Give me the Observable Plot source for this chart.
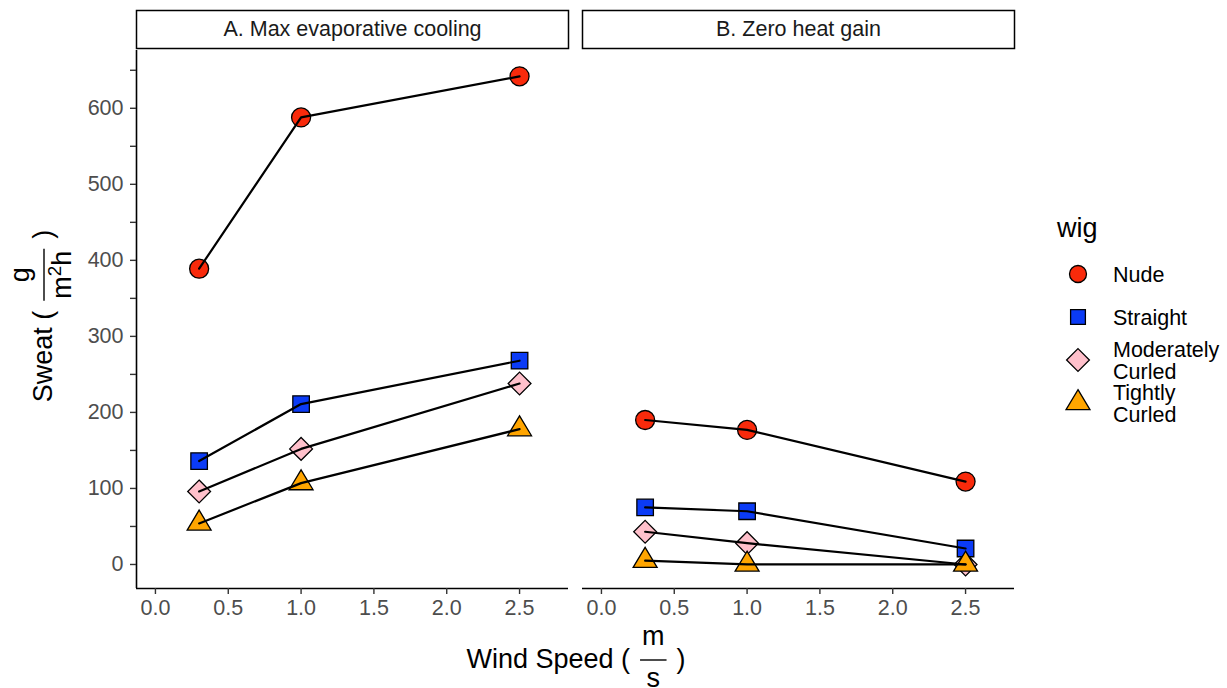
<!DOCTYPE html>
<html><head><meta charset="utf-8">
<script src="https://cdn.jsdelivr.net/npm/d3@7"></script>
<script src="https://cdn.jsdelivr.net/npm/@observablehq/plot@0.6"></script>
<style>body{margin:0;background:#fff;}</style>
</head><body>
<script>
const panels = ["A. Max evaporative cooling", "B. Zero heat gain"];
const wigs = ["Nude", "Straight", "Moderately Curled", "Tightly Curled"];
const windSpeeds = [0.3, 1.0, 2.5];
const maxCoolingNude = [389, 588, 642];
const maxCoolingStraight = [136, 211, 268];
const maxCoolingModerate = [96, 152, 238];
const maxCoolingTight = [54, 107, 178];
const zeroGainNude = [190, 177, 109];
const zeroGainStraight = [75, 70, 21];
const zeroGainModerate = [43, 28, 0];
const zeroGainTight = [5, 0, 0];
const wigFills = ["#F92A0B", "#0B3BF6", "#FFC0CB", "#FFA500"];
const xTicks = [0, 0.5, 1, 1.5, 2, 2.5];
const yTicks = [0, 100, 200, 300, 400, 500, 600];
const yMinorTicks = [50, 150, 250, 350, 450, 550, 650];
const xDomain = [-0.13, 2.836];
const yDomain = [-31.6, 676];

const seriesByPanel = [
  [maxCoolingNude, maxCoolingStraight, maxCoolingModerate, maxCoolingTight],
  [zeroGainNude, zeroGainStraight, zeroGainModerate, zeroGainTight]
];
const rows = [];
panels.forEach((panel, p) => wigs.forEach((wig, w) => windSpeeds.forEach((wind, i) =>
  rows.push({panel, wig, wind, sweat: seriesByPanel[p][w][i]}))));

function makeSymbol(kind) {
  return {draw(ctx, size) {
    const r = Math.sqrt(size / Math.PI);
    if (kind === "circle") { ctx.moveTo(r, 0); ctx.arc(0, 0, r, 0, 2 * Math.PI); }
    else if (kind === "square") { const h = r * 0.87; ctx.rect(-h, -h, 2 * h, 2 * h); }
    else if (kind === "diamond") { const h = r * 1.2; ctx.moveTo(0, -h); ctx.lineTo(h, 0); ctx.lineTo(0, h); ctx.lineTo(-h, 0); ctx.closePath(); }
    else { const w = r * 1.26; ctx.moveTo(0, -r * 1.4); ctx.lineTo(w, r * 0.7); ctx.lineTo(-w, r * 0.7); ctx.closePath(); }
  }};
}
const wigSymbols = ["circle", "square", "diamond", "triangle"].map(makeSymbol);
const FONT = "'Liberation Sans', Arial, Helvetica, sans-serif";

const chart = Plot.plot({
  width: 1227, height: 688,
  marginLeft: 135, marginRight: 212, marginTop: 50, marginBottom: 100,
  style: {fontFamily: FONT, fontSize: "21.5px", background: "#fff", color: "#000"},
  fx: {domain: panels, padding: 0.0313, paddingInner: 0.0313, paddingOuter: 0, axis: null, label: null},
  x: {domain: xDomain},
  y: {domain: yDomain},
  symbol: {domain: wigs, range: wigSymbols},
  color: {domain: wigs, range: wigFills},
  marks: [
    Plot.frame({insetTop: -40, insetBottom: 540, stroke: "#000", strokeWidth: 1.5, fill: "#fff"}),
    Plot.text(panels, {fx: d => d, text: d => d, frameAnchor: "top", lineAnchor: "middle", dy: -21, fill: "#1a1a1a", fontSize: 21.5}),
    Plot.ruleY([yDomain[0]], {stroke: "#000", strokeWidth: 1.6}),
    Plot.ruleX([{panel: panels[0], x: xDomain[0]}], {fx: "panel", x: "x", stroke: "#000", strokeWidth: 1.6}),
    Plot.axisX({ticks: xTicks, tickFormat: d3.format(".1f"), tickSize: 6, tickPadding: 5, stroke: "#333", strokeWidth: 1.4, fill: "#4d4d4d", label: null}),
    Plot.axisY({ticks: yTicks, tickFormat: d3.format("d"), tickSize: 6, tickPadding: 7, stroke: "#333", strokeWidth: 1.4, fill: "#4d4d4d", label: null}),
    Plot.axisY({ticks: yMinorTicks, tickFormat: () => "", tickSize: 6, stroke: "#333", strokeWidth: 1.4, label: null}),
    Plot.dot(rows, {fx: "panel", x: "wind", y: "sweat", symbol: "wig", fill: "wig", stroke: "#000", strokeWidth: 1.3, r: 9.5}),
    Plot.line(rows, {fx: "panel", x: "wind", y: "sweat", z: "wig", stroke: "#000", strokeWidth: 2.2})
  ]
});
document.body.append(chart);
const svg = d3.select(chart);

function fractionTitle(g, parts) {
  const fs = 27, gap = 10;
  const inner = g.append("g").attr("font-family", FONT).attr("fill", "#000").attr("text-anchor", "start");
  const t1 = inner.append("text").attr("font-size", fs).attr("text-anchor", "start").attr("x", 0).attr("y", 0).text(parts.pre);
  const w1 = t1.node().getComputedTextLength();
  const numT = inner.append("text").attr("font-size", fs).attr("text-anchor", "middle").text(parts.num);
  const numW = numT.node().getComputedTextLength();
  const denT = inner.append("text").attr("font-size", fs).attr("text-anchor", "middle");
  let raised = false;
  parts.den.forEach(([s, sup]) => {
    const dy = sup ? -10 : (raised ? 10 : 0);
    raised = sup;
    denT.append("tspan").attr("font-size", sup ? fs * 0.7 : fs).attr("dy", dy).text(s);
  });
  const denW = denT.node().getComputedTextLength();
  const fw = Math.max(numW, denW) + 4;
  const x0 = w1 + gap;
  const bar = -8;
  numT.attr("x", x0 + fw / 2).attr("y", bar - 15);
  denT.attr("x", x0 + fw / 2).attr("y", bar + 27);
  inner.append("line").attr("x1", x0).attr("x2", x0 + fw).attr("y1", bar).attr("y2", bar)
    .attr("stroke", "#000").attr("stroke-width", 1.4);
  const post = inner.append("text").attr("font-size", fs).attr("text-anchor", "start").attr("x", x0 + fw + gap).attr("y", 0).text(parts.post);
  const total = x0 + fw + gap + post.node().getComputedTextLength();
  inner.attr("transform", `translate(${-total / 2},0)`);
}

fractionTitle(svg.append("g").attr("transform", "translate(576,668)"),
  {pre: "Wind Speed (", num: "m", den: [["s", false]], post: ")"});
fractionTitle(svg.append("g").attr("transform", "translate(52,316) rotate(-90)"),
  {pre: "Sweat (", num: "g", den: [["m", false], ["2", true], ["h", false]], post: ")"});

const leg = svg.append("g").attr("font-family", FONT).attr("text-anchor", "start");
leg.append("text").attr("x", 1057).attr("y", 237).attr("font-size", 27).attr("fill", "#000").text("wig");
wigs.forEach((wig, i) => {
  const cy = 274 + i * 43;
  const r = i < 2 ? 8.5 : 9.5;
  const p = d3.path();
  wigSymbols[i].draw(p, Math.PI * r * r);
  leg.append("path").attr("transform", `translate(1078,${cy})`).attr("d", p.toString())
    .attr("fill", wigFills[i]).attr("stroke", "#000").attr("stroke-width", 1.3);
  const lines = wig.split(" ");
  const t = leg.append("text").attr("font-size", 21.5).attr("fill", "#000");
  lines.forEach((ln, j) => t.append("tspan").attr("x", 1113)
    .attr("y", cy + (j - (lines.length - 1) / 2) * 22).attr("dy", "0.35em").text(ln));
});
</script>
</body></html>
